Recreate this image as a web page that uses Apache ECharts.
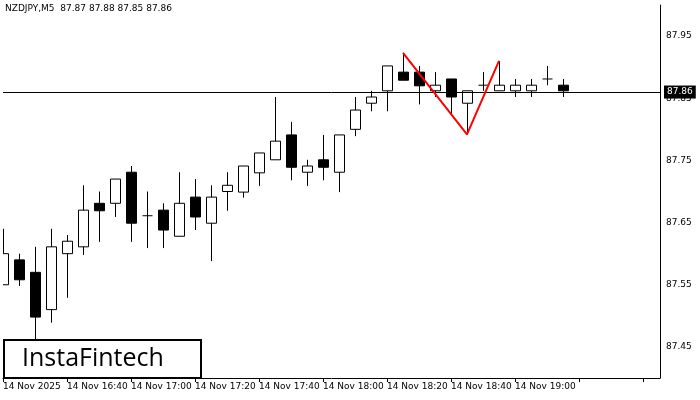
<!DOCTYPE html>
<html><head><meta charset="utf-8">
<script src="https://cdn.jsdelivr.net/npm/echarts@6/dist/echarts.min.js"></script>
<style>html,body{margin:0;padding:0;background:#fff}#c{width:700px;height:400px}</style>
</head><body><div id="c"></div>
<script>
// index 0 = 14 Nov 16:20, 5-minute bars
const opens  = [87.55,87.59,87.57,87.51,87.60,87.611,87.681,87.681,87.731,87.661,87.67,87.628,87.691,87.649,87.70,87.699,87.73,87.751,87.791,87.731,87.751,87.731,87.80,87.842,87.862,87.892,87.892,87.862,87.881,87.842,87.871,87.862,87.862,87.862,87.881,87.871];
const closes = [87.60,87.558,87.498,87.611,87.62,87.67,87.669,87.72,87.649,87.661,87.638,87.681,87.659,87.691,87.71,87.741,87.762,87.781,87.739,87.741,87.739,87.791,87.831,87.852,87.902,87.879,87.87,87.871,87.852,87.862,87.871,87.871,87.871,87.871,87.881,87.862];
const lows   = [87.55,87.548,87.461,87.489,87.529,87.598,87.619,87.659,87.619,87.609,87.609,87.628,87.638,87.588,87.669,87.69,87.709,87.751,87.718,87.709,87.718,87.699,87.789,87.829,87.829,87.879,87.84,87.852,87.823,87.792,87.862,87.862,87.852,87.852,87.871,87.852];
const highs  = [87.64,87.60,87.611,87.64,87.63,87.71,87.70,87.72,87.741,87.70,87.681,87.731,87.72,87.71,87.731,87.741,87.762,87.852,87.812,87.751,87.791,87.791,87.852,87.862,87.902,87.923,87.902,87.892,87.881,87.862,87.892,87.91,87.881,87.881,87.902,87.881];
const xLabels = {0:'14 Nov 2025',4:'14 Nov 16:40',8:'14 Nov 17:00',12:'14 Nov 17:20',16:'14 Nov 17:40',20:'14 Nov 18:00',24:'14 Nov 18:20',28:'14 Nov 18:40',32:'14 Nov 19:00'};
const patternIdx = [25,29,31];
const patternVal = [87.923,87.792,87.91];
const currentPrice = 87.862;

const candleData = opens.map((o,i)=>[i,o,closes[i],lows[i],highs[i]]);
const chart = echarts.init(document.getElementById('c'));
chart.setOption({
  animation:false,
  grid:{left:3,right:40,top:5,bottom:22},
  xAxis:{type:'value',min:0,max:41.0625,interval:4,
    axisLine:{show:true,onZero:false,lineStyle:{color:'#000'}},
    axisTick:{show:true,length:4,lineStyle:{color:'#000'}},
    splitLine:{show:false},
    axisLabel:{formatter:v=>xLabels[v]||'',align:'left',color:'#000',fontSize:9,fontFamily:'DejaVu Sans',margin:4,showMaxLabel:false}},
  yAxis:{type:'value',position:'right',min:87.40,max:88.0,interval:0.05,
    axisLine:{show:true,onZero:false,lineStyle:{color:'#000'}},
    axisTick:{show:false},
    splitLine:{show:false},
    axisLabel:{color:'#000',fontSize:9,fontFamily:'DejaVu Sans',margin:6,
      formatter:v=>{const k=Math.round(v*100);return (k%10===5)?v.toFixed(2):'';}}},
  series:[
    {type:'custom',data:candleData,clip:true,
     renderItem:(params,api)=>{
       const i=api.value(0),o=api.value(1),c=api.value(2),l=api.value(3),h=api.value(4);
       const pO=api.coord([i,o]),pC=api.coord([i,c]),pL=api.coord([i,l]),pH=api.coord([i,h]);
       const x=Math.round(pO[0])+0.5;
       const top=Math.min(pO[1],pC[1]),bot=Math.max(pO[1],pC[1]);
       const ch=[{type:'line',shape:{x1:x,y1:pH[1],x2:x,y2:pL[1]},style:{stroke:'#000',lineWidth:1}}];
       if(bot-top<1){ch.push({type:'line',shape:{x1:x-5,y1:top,x2:x+5,y2:top},style:{stroke:'#000',lineWidth:1}});}
       else ch.push({type:'rect',shape:{x:x-5,y:top,width:10,height:bot-top},style:{fill:c<o?'#000':'#fff',stroke:'#000',lineWidth:1}});
       return {type:'group',children:ch};
     }},
    {type:'line',data:patternIdx.map((x,k)=>[x,patternVal[k]]),symbol:'none',
     lineStyle:{color:'#ff0000',width:2},z:5,
     markLine:{silent:true,symbol:'none',data:[{yAxis:currentPrice}],
       lineStyle:{color:'#000',width:1,type:'solid'},
       label:{position:'end',formatter:'87.86',backgroundColor:'#000',color:'#fff',fontSize:9,fontFamily:'DejaVu Sans',padding:[2,3],distance:4}}}
  ],
  graphic:[
    {type:'text',left:5,top:4,style:{text:'NZDJPY,M5  87.87 87.88 87.85 87.86',fontSize:9,fontFamily:'DejaVu Sans',fill:'#000'}},
    {type:'rect',shape:{x:4,y:340,width:197,height:38},style:{fill:'#fff',stroke:'#000',lineWidth:2},z:10},
    {type:'text',x:22,y:346,style:{text:'InstaFintech',fontSize:25,fontFamily:'Open Sans',fill:'#000'},z:11}
  ]
});
</script></body></html>
